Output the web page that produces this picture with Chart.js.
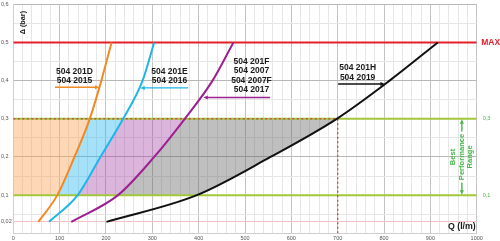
<!DOCTYPE html>
<html>
<head>
<meta charset="utf-8">
<script src="https://cdn.jsdelivr.net/npm/chart.js@4.4.0/dist/chart.umd.min.js"></script>
<style>
    html, body { margin: 0; padding: 0; background: #ffffff; }
    #contenedor { width: 500px; height: 241px; }
</style>
</head>
<body>
<div id="contenedor"><canvas id="grafico"></canvas></div>
<script>
let presiones = [0.03, 0.1, 0.2, 0.3, 0.4, 0.5];
let caudal201D = [54, 95, 132, 165, 190, 212];
let caudal201E = [77, 139, 188, 237, 279, 304];
let caudal201F = [125, 226, 304, 370, 430, 475];
let caudal201H = [201, 396, 555, 698, 812, 916];

let etiquetas201D = ['504 201D', '504 2015'];
let etiquetas201E = ['504 201E', '504 2016'];
let etiquetas201F = ['504 201F', '504 2007', '504 2007F', '504 2017'];
let etiquetas201H = ['504 201H', '504 2019'];

let yTicksValores = [0.03, 0.1, 0.2, 0.3, 0.4, 0.5, 0.6];
let yTicksTextos = ['0,02', '0,1', '0,2', '0,3', '0,4', '0,5', '0,6'];
let xTicksValores = [0, 100, 200, 300, 400, 500, 600, 700, 800, 900, 1000];

let presionMax = 0.5;
let rangoMin = 0.1;
let rangoMax = 0.3;
let caudalPunto = 700;

let fuente = '"Liberation Sans", Arial, sans-serif';
let verdeLinea = '#a2c73b';
let verdeTexto = '#45b649';
let rojo = '#e3202a';

function armarCurva(caudales) {
    let puntos = [];
    for (let i = 0; i < caudales.length; i++) {
        puntos.push({ x: caudales[i], y: presiones[i] });
    }
    return puntos;
}

function curva(puntos, color) {
    return {
        data: puntos,
        borderColor: color,
        borderWidth: 2,
        pointRadius: 0,
        fill: false,
        cubicInterpolationMode: 'monotone'
    };
}

function recta(puntos, color, ancho, guiones) {
    return {
        data: puntos,
        borderColor: color,
        borderWidth: ancho,
        borderDash: guiones,
        pointRadius: 0,
        fill: false,
        tension: 0
    };
}

function trazarCurva(ctx, chart, indice) {
    let meta = chart.getDatasetMeta(indice);
    meta.dataset.updateControlPoints(chart.chartArea, 'x');
    meta.dataset.path(ctx);
    return meta.data;
}

function recortarDerecha(ctx, chart, indice) {
    let area = chart.chartArea;
    ctx.beginPath();
    let puntos = trazarCurva(ctx, chart, indice);
    let primero = puntos[0];
    let ultimo = puntos[puntos.length - 1];
    ctx.lineTo(area.right, ultimo.y);
    ctx.lineTo(area.right, area.bottom);
    ctx.lineTo(primero.x, area.bottom);
    ctx.closePath();
    ctx.clip();
}

function rellenarIzquierda(ctx, chart, indice, color) {
    let area = chart.chartArea;
    ctx.beginPath();
    let puntos = trazarCurva(ctx, chart, indice);
    let primero = puntos[0];
    let ultimo = puntos[puntos.length - 1];
    ctx.lineTo(area.left, ultimo.y);
    ctx.lineTo(area.left, primero.y);
    ctx.closePath();
    ctx.fillStyle = color;
    ctx.fill();
}

function recortarRango(ctx, chart) {
    let area = chart.chartArea;
    let yArriba = chart.scales.y.getPixelForValue(rangoMax);
    let yAbajo = chart.scales.y.getPixelForValue(rangoMin);
    ctx.beginPath();
    ctx.rect(area.left, yArriba, area.right - area.left, yAbajo - yArriba);
    ctx.clip();
}

let pluginRellenos = {
    id: 'rellenos',
    beforeDatasetsDraw: function(chart) {
        let ctx = chart.ctx;
        let colores = ['rgba(250, 160, 80, 0.42)', 'rgba(30, 180, 240, 0.4)', 'rgba(160, 60, 160, 0.38)', 'rgba(90, 90, 92, 0.39)'];

        ctx.save();
        recortarRango(ctx, chart);
        rellenarIzquierda(ctx, chart, 0, colores[0]);
        ctx.restore();

        for (let i = 1; i < 4; i++) {
            ctx.save();
            recortarRango(ctx, chart);
            recortarDerecha(ctx, chart, i - 1);
            rellenarIzquierda(ctx, chart, i, colores[i]);
            ctx.restore();
        }
    }
};

function escribirLineas(ctx, lineas, x, yInicio, salto) {
    for (let i = 0; i < lineas.length; i++) {
        ctx.fillText(lineas[i], x, yInicio + i * salto);
    }
}

function flecha(ctx, x1, y1, x2, y2, color) {
    let angulo = Math.atan2(y2 - y1, x2 - x1);
    let largo = 4.5;
    ctx.strokeStyle = color;
    ctx.fillStyle = color;
    ctx.lineWidth = 1.4;
    ctx.beginPath();
    ctx.moveTo(x1, y1);
    ctx.lineTo(x2 - Math.cos(angulo) * largo * 0.8, y2 - Math.sin(angulo) * largo * 0.8);
    ctx.stroke();
    ctx.beginPath();
    ctx.moveTo(x2, y2);
    ctx.lineTo(x2 - Math.cos(angulo) * largo + Math.sin(angulo) * 2, y2 - Math.sin(angulo) * largo - Math.cos(angulo) * 2);
    ctx.lineTo(x2 - Math.cos(angulo) * largo - Math.sin(angulo) * 2, y2 - Math.sin(angulo) * largo + Math.cos(angulo) * 2);
    ctx.closePath();
    ctx.fill();
}

let pluginTextos = {
    id: 'textos',
    afterDatasetsDraw: function(chart) {
        let ctx = chart.ctx;
        let sx = function(v) { return chart.scales.x.getPixelForValue(v); };
        let sy = function(v) { return chart.scales.y.getPixelForValue(v); };
        let area = chart.chartArea;

        ctx.save();
        ctx.textBaseline = 'middle';
        ctx.textAlign = 'center';
        ctx.fillStyle = '#1a1a1a';
        ctx.font = 'bold 8.5px ' + fuente;
        escribirLineas(ctx, etiquetas201D, sx(132), sy(0.423), 9);
        escribirLineas(ctx, etiquetas201E, sx(337), sy(0.423), 9);
        escribirLineas(ctx, etiquetas201F, sx(514), sy(0.4495), 9.3);
        escribirLineas(ctx, etiquetas201H, sx(743), sy(0.4346), 10.6);

        flecha(ctx, sx(90), sy(0.3825), sx(186), sy(0.3825), '#f08a24');
        flecha(ctx, sx(377), sy(0.381), sx(274), sy(0.381), '#1fb5e8');
        flecha(ctx, sx(554), sy(0.356), sx(410), sy(0.356), '#9c2190');
        flecha(ctx, sx(701), sy(0.391), sx(802), sy(0.391), '#111111');

        ctx.textAlign = 'left';
        ctx.fillStyle = rojo;
        ctx.font = 'bold 8.5px ' + fuente;
        ctx.fillText('MAX', area.right + 4.5, sy(presionMax));

        ctx.fillStyle = verdeTexto;
        ctx.font = '5.5px ' + fuente;
        ctx.fillText('0,3', area.right + 6, sy(rangoMax));
        ctx.fillText('0,1', area.right + 6, sy(rangoMin));

        let xRango = sx(968);
        let yCentro = sy((rangoMin + rangoMax) / 2);
        ctx.save();
        ctx.translate(xRango, yCentro);
        ctx.rotate(-Math.PI / 2);
        ctx.textAlign = 'center';
        ctx.font = 'bold 7.6px ' + fuente;
        ctx.fillText('Best', 0, -8.5);
        ctx.fillText('Performance', 0, 0);
        ctx.fillText('Range', 0, 8.5);
        ctx.restore();
        flecha(ctx, xRango, yCentro - 25.5, xRango, sy(rangoMax) + 0.5, verdeTexto);
        flecha(ctx, xRango, yCentro + 25.5, xRango, sy(rangoMin) - 0.5, verdeTexto);

        ctx.fillStyle = '#1a1a1a';
        ctx.save();
        ctx.translate(sx(20.3), sy(0.552));
        ctx.rotate(-Math.PI / 2);
        ctx.textAlign = 'center';
        ctx.font = 'bold 7.3px ' + fuente;
        ctx.fillText('Δ (bar)', 0, 0);
        ctx.restore();

        ctx.textAlign = 'center';
        ctx.font = 'bold 8.8px ' + fuente;
        ctx.fillText('Q (l/m)', sx(968), sy(0.017));
        ctx.restore();
    }
};

function esMultiplo(valor, paso) {
    let r = valor / paso;
    return Math.abs(r - Math.round(r)) < 1e-6;
}

let datasets = [
    curva(armarCurva(caudal201D), '#f08a24'),
    curva(armarCurva(caudal201E), '#1fb5e8'),
    curva(armarCurva(caudal201F), '#9c2190'),
    curva(armarCurva(caudal201H), '#111111'),
    recta([{ x: 0, y: rangoMax }, { x: caudalPunto, y: rangoMax }], '#c0504d', 1.4, [2, 2.5]),
    recta([{ x: caudalPunto, y: 0 }, { x: caudalPunto, y: rangoMax }], '#c0504d', 1.4, [2, 2.5]),
    recta([{ x: 0, y: rangoMax }, { x: 1000, y: rangoMax }], verdeLinea, 2, []),
    recta([{ x: 0, y: rangoMin }, { x: 1000, y: rangoMin }], verdeLinea, 2, []),
    recta([{ x: 0, y: presionMax }, { x: 1000, y: presionMax }], rojo, 2, [])
];

new Chart(document.getElementById('grafico'), {
    type: 'line',
    data: { datasets: datasets },
    options: {
        responsive: true,
        maintainAspectRatio: false,
        animation: false,
        layout: { padding: { left: 1, right: 23.3, top: 2.7, bottom: 0 } },
        plugins: {
            legend: { display: false },
            tooltip: { enabled: false }
        },
        scales: {
            x: {
                type: 'linear',
                min: 0,
                max: 1000,
                afterFit: function(scale) { scale.height = 7.7; },
                ticks: {
                    stepSize: 20,
                    autoSkip: false,
                    maxRotation: 0,
                    padding: 1.5,
                    color: '#555555',
                    font: { size: 5.5, family: fuente },
                    callback: function(valor) {
                        if (xTicksValores.indexOf(valor) >= 0) {
                            return valor;
                        }
                        return '';
                    }
                },
                grid: {
                    drawTicks: false,
                    color: function(c) {
                        if (c.tick && esMultiplo(c.tick.value, 100)) {
                            return '#c4c4c4';
                        }
                        return '#e6e6e6';
                    }
                },
                border: { color: '#cfcfcf' }
            },
            y: {
                type: 'linear',
                min: 0,
                max: 0.6,
                afterFit: function(scale) { scale.width = 12.3; },
                afterBuildTicks: function(scale) {
                    let ticks = [];
                    for (let i = 0; i <= 12; i++) {
                        ticks.push({ value: i * 0.05 });
                        if (i === 0) {
                            ticks.push({ value: yTicksValores[0] });
                        }
                    }
                    scale.ticks = ticks;
                },
                ticks: {
                    autoSkip: false,
                    crossAlign: 'far',
                    padding: 1,
                    color: '#555555',
                    font: { size: 5.5, family: fuente },
                    callback: function(valor) {
                        for (let i = 0; i < yTicksValores.length; i++) {
                            if (Math.abs(yTicksValores[i] - valor) < 1e-6) {
                                return yTicksTextos[i];
                            }
                        }
                        return '';
                    }
                },
                grid: {
                    drawTicks: false,
                    color: function(c) {
                        if (!c.tick) {
                            return '#e6e6e6';
                        }
                        if (Math.abs(c.tick.value - yTicksValores[0]) < 1e-6) {
                            return '#f2c2c6';
                        }
                        if (esMultiplo(c.tick.value, 0.1)) {
                            return '#b8b8b8';
                        }
                        return '#e6e6e6';
                    }
                },
                border: { color: '#cfcfcf' }
            }
        }
    },
    plugins: [pluginRellenos, pluginTextos]
});
</script>
</body>
</html>
